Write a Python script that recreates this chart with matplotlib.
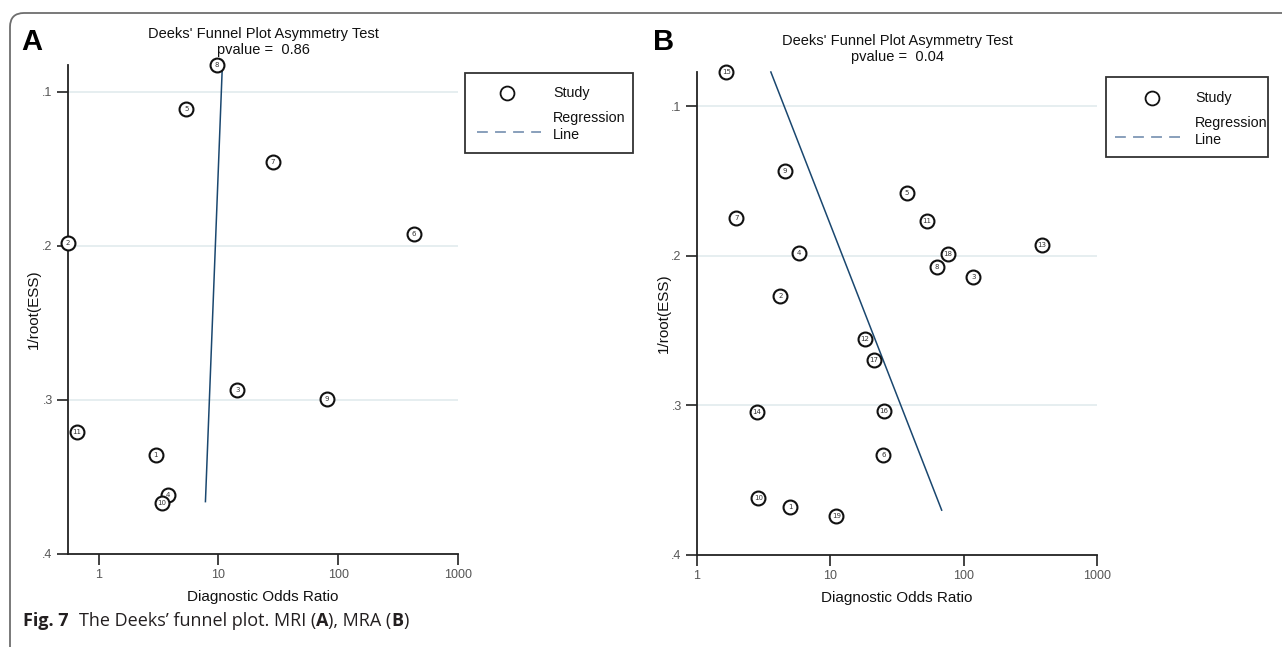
import matplotlib
matplotlib.use('Agg')
import matplotlib.pyplot as plt
from matplotlib.lines import Line2D
from matplotlib.patches import Rectangle, PathPatch
from matplotlib.path import Path
from matplotlib.transforms import IdentityTransform
from matplotlib.ticker import FixedLocator, FixedFormatter, NullLocator

# ---------------- data ----------------
a_study = ["1", "2", "3", "4", "5", "6", "7", "8", "9", "10", "11"]
a_dor = [2.99, 0.556, 14.4, 3.79, 5.39, 426, 28.6, 9.69, 80.3, 3.37, 0.655]
a_inv_ess = [0.3356, 0.198, 0.2935, 0.3616, 0.111, 0.192, 0.1454, 0.0825, 0.2994, 0.367, 0.3205]
a_reg_x = [10.8, 7.8]
a_reg_y = [0.0825, 0.366]
a_pvalue = "0.86"

b_study = [str(i) for i in range(1, 20)]
b_dor = [5.01, 4.21, 118, 5.82, 37.3, 25.0, 1.97, 62.8, 4.54, 2.88,
         52.7, 18.1, 384, 2.80, 1.66, 25.3, 21.1, 76.5, 11.1]
b_inv_ess = [0.368, 0.2267, 0.214, 0.1978, 0.1582, 0.3331, 0.1747, 0.2073, 0.1429, 0.3616,
             0.1767, 0.2553, 0.1927, 0.3044, 0.077, 0.304, 0.2693, 0.1989, 0.3738]
b_reg_x = [3.58, 68.4]
b_reg_y = [0.077, 0.370]
b_pvalue = "0.04"

x_ticks = [1, 10, 100, 1000]
x_ticklabels = ["1", "10", "100", "1000"]
y_ticks = [0.1, 0.2, 0.3, 0.4]
y_ticklabels = [".1", ".2", ".3", ".4"]

# ---------------- figure ----------------
W, H = 1282, 647
fig = plt.figure(figsize=(W / 100, H / 100), dpi=100)
fig.patch.set_facecolor('white')

plt.rcParams['font.family'] = ['Liberation Sans', 'DejaVu Sans']

def fx(px):
    return px / W

def fy(py):
    return 1 - py / H

LINE_COL = '#1a476f'
GRID_COL = '#e4edef'
TICK_COL = '#555555'


def make_panel(left, top, right, bottom, xmin, ytop, dor, inv, labels, regx, regy, pval,
               ylab_px):
    ax = fig.add_axes([fx(left), fy(bottom), fx(right - left), (bottom - top) / H])
    ax.set_xscale('log')
    ax.set_xlim(xmin, 1000)
    ax.set_ylim(0.4, ytop)
    for sp in ['top', 'right']:
        ax.spines[sp].set_visible(False)
    for sp in ['left', 'bottom']:
        ax.spines[sp].set_linewidth(1.3)
        ax.spines[sp].set_color('#222222')
    ax.xaxis.set_major_locator(FixedLocator(x_ticks))
    ax.xaxis.set_major_formatter(FixedFormatter(x_ticklabels))
    ax.xaxis.set_minor_locator(NullLocator())
    ax.yaxis.set_major_locator(FixedLocator(y_ticks))
    ax.yaxis.set_major_formatter(FixedFormatter(y_ticklabels))
    ax.tick_params(axis='both', which='major', direction='out', length=8, width=1.2,
                   color='#222222', labelsize=9, labelcolor=TICK_COL, pad=3)
    for yv in y_ticks[:-1]:
        ax.axhline(yv, color=GRID_COL, lw=1.3, zorder=0)
    ax.plot(regx, regy, color=LINE_COL, lw=1.1, zorder=2, clip_on=False)
    ax.plot(dor, inv, linestyle='none', marker='o', markersize=10, markerfacecolor='white',
            markeredgecolor='#111111', markeredgewidth=1.5, zorder=3, clip_on=False)
    for xv, yv, lab in zip(dor, inv, labels):
        ax.text(xv, yv, lab, fontsize=5, ha='center', va='center', color='#333333',
                family='DejaVu Sans', zorder=4, clip_on=False)
    ax.set_xlabel('Diagnostic Odds Ratio', fontsize=11, color='#111111', labelpad=6)
    ax.set_ylabel('1/root(ESS)', fontsize=11, color='#111111')
    ax.yaxis.set_label_coords((ylab_px - left) / (right - left), 0.5)
    ax.annotate("Deeks' Funnel Plot Asymmetry Test", xy=(0.5, 1), xycoords='axes fraction',
                xytext=(0, 31), textcoords='offset pixels', ha='center', va='center',
                fontsize=10.5, color='#111111')
    ax.annotate("pvalue =  " + pval, xy=(0.5, 1), xycoords='axes fraction',
                xytext=(0, 15), textcoords='offset pixels', ha='center', va='center',
                fontsize=10.5, color='#111111')
    return ax


axA = make_panel(68, 65, 458, 554, 0.556, 0.0825, a_dor, a_inv_ess, a_study,
                 a_reg_x, a_reg_y, a_pvalue, 41)
axB = make_panel(697, 72, 1097, 555, 1.0, 0.077, b_dor, b_inv_ess, b_study,
                 b_reg_x, b_reg_y, b_pvalue, 671)


def legend_box(x0, y0, x1, y1, cx, cy, tx, ys, dash_y, dash_x0, dash_x1):
    fig.add_artist(Rectangle((fx(x0), fy(y1)), fx(x1 - x0), (y1 - y0) / H,
                             transform=fig.transFigure, fill=False,
                             edgecolor='#333333', lw=1.3))
    fig.add_artist(Line2D([fx(cx)], [fy(cy)], marker='o', markersize=10,
                          markerfacecolor='white', markeredgecolor='#111111',
                          markeredgewidth=1.3, linestyle='none',
                          transform=fig.transFigure))
    fig.add_artist(Line2D([fx(dash_x0), fx(dash_x1)], [fy(dash_y), fy(dash_y)],
                          color='#7f97b5', lw=1.3, linestyle=(0, (6, 4)),
                          transform=fig.transFigure))
    for s, yy in zip(['Study', 'Regression', 'Line'], ys):
        fig.text(fx(tx), fy(yy), s, fontsize=10.3, va='center', ha='left', color='#111111')


legend_box(465, 73, 633, 153, 507, 93, 553, [93, 118, 135], 132, 477, 541)
legend_box(1106, 77, 1268, 157, 1152, 98, 1195, [98, 123, 140], 137, 1115, 1185)

# panel letters
fig.text(fx(21), fy(42), 'A', fontsize=21, fontweight='bold', family='Liberation Sans',
         va='center', ha='left', color='black')
fig.text(fx(653), fy(42), 'B', fontsize=21, fontweight='bold', family='Liberation Sans',
         va='center', ha='left', color='black')

# outer rounded border (pixel coords, origin bottom-left)
r = 14
x0, yt = 10, 13
verts = [(x0, -20), (x0, H - yt - r), (x0, H - yt), (x0 + r, H - yt), (W + 20, H - yt)]
codes = [Path.MOVETO, Path.LINETO, Path.CURVE3, Path.CURVE3, Path.LINETO]
fig.add_artist(PathPatch(Path(verts, codes), fill=False, edgecolor='#6e6e6e', lw=1.3,
                         transform=IdentityTransform()))

# caption
fig.canvas.draw()
rend = fig.canvas.get_renderer()
cap_parts = [("Fig. 7", True, 0), ("The Deeks\u2019 funnel plot. MRI (", False, 10),
             ("A", True, 0), ("), MRA (", False, 0), ("B", True, 0), (")", False, 0)]
xc = 23
for s, bold, gap in cap_parts:
    xc += gap
    t = fig.text(fx(xc), fy(621), s, fontsize=13, family=['Open Sans', 'DejaVu Sans'],
                 fontweight='bold' if bold else 'normal', va='center', ha='left',
                 color='#231f20')
    bb = t.get_window_extent(rend)
    xc += bb.width

fig.savefig('out.png', dpi=100)
